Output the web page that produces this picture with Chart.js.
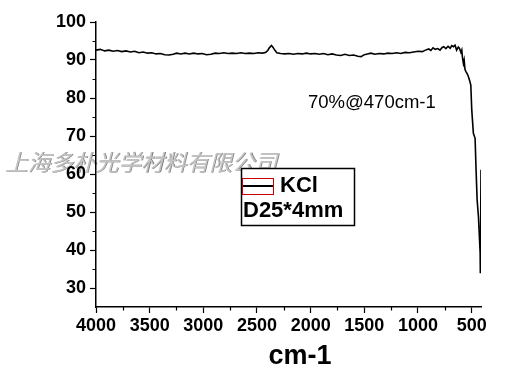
<!DOCTYPE html>
<html>
<head>
<meta charset="utf-8">
<script src="https://cdn.jsdelivr.net/npm/chart.js@4/dist/chart.umd.min.js"></script>
<style>
  html, body { margin: 0; padding: 0; background: #fff; }
  #wrap { width: 522px; height: 373px; position: relative; }
</style>
</head>
<body>
<div id="wrap"><canvas id="irChart"></canvas></div>
<script>
// wavenumber (cm-1) and transmittance (%)
const wavenumbers = [
  4000, 3960, 3920, 3880, 3840, 3800, 3760, 3720, 3680, 3640,
  3600, 3560, 3520, 3480, 3440, 3400, 3360, 3320, 3280, 3250,
  3210, 3170, 3130, 3090, 3050, 3010, 2970, 2930, 2890, 2850,
  2810, 2770, 2730, 2690, 2650, 2610, 2570, 2530, 2490, 2450,
  2420, 2400, 2385, 2365, 2350, 2335, 2315, 2280, 2240, 2200,
  2160, 2120, 2080, 2040, 2000, 1960, 1920, 1880, 1840, 1800,
  1760, 1720, 1680, 1640, 1600, 1560, 1530, 1500, 1470, 1440,
  1400, 1360, 1320, 1280, 1240, 1200, 1160, 1120, 1080, 1040,
  1000, 960, 930, 900, 880, 860, 840, 815, 795, 775,
  760, 740, 720, 700, 685, 670, 655, 640, 625, 614,
  600, 592, 585, 577, 570, 562, 552, 540, 530, 518,
  508, 499, 484, 468, 459, 449, 437, 428, 421, 419,
  413
];
const transmittance = [
  92.6, 92.8, 92.4, 92.6, 92.3, 92.5, 92.2, 92.4, 92.1, 92.3,
  91.9, 92.1, 91.8, 91.9, 91.6, 91.7, 91.4, 91.3, 91.5, 91.8,
  91.6, 91.8, 91.6, 91.8, 91.6, 91.7, 91.4, 91.5, 91.8, 91.7,
  91.9, 91.7, 91.8, 91.7, 91.9, 91.7, 91.8, 91.7, 91.9, 91.8,
  92.0, 92.5, 93.2, 93.8, 93.3, 92.6, 91.9, 91.7, 91.6, 91.7,
  91.5, 91.7, 91.6, 91.8, 91.6, 91.7, 91.5, 91.7, 91.4, 91.6,
  91.3, 91.2, 91.5, 91.2, 91.3, 91.0, 90.9, 91.4, 91.6, 91.8,
  91.5, 91.7, 91.6, 91.8, 91.7, 91.9, 91.7, 92.0, 91.9, 92.1,
  92.3, 92.2, 92.6, 92.9, 92.5, 93.2, 92.8, 93.0, 92.6, 93.3,
  93.5, 93.0, 93.6, 93.1, 93.8, 93.5, 93.9, 92.6, 93.4, 93.1,
  92.0, 92.6, 90.5, 89.1, 90.0, 87.5, 86.9, 86.3, 85.6, 84.5,
  83.4, 76.8, 70.7, 69.4, 61.1, 53.2, 48.8, 43.5, 39.2, 33.9,
  61.1
];
const xTickValues = [4000, 3500, 3000, 2500, 2000, 1500, 1000, 500];
const xMinorValues = [3750, 3250, 2750, 2250, 1750, 1250, 750];
const yTickValues = [30, 40, 50, 60, 70, 80, 90, 100];
const yMinorValues = [35, 45, 55, 65, 75, 85, 95];

const seriesLabel = 'KCl';
const sampleNote = 'D25*4mm';
const peakNote = '70%@470cm-1';
const xTitle = 'cm-1';
const watermark = '上海多朴光学材料有限公司';

const points = wavenumbers.map((w, i) => ({ x: w, y: transmittance[i] }));

// grey company stamp sits under everything else
const watermarkPlugin = {
    id: 'watermark',
    beforeDraw(chart) {
        const ctx = chart.ctx;
        ctx.save();
        ctx.font = 'italic 22.7px "Noto Sans CJK SC"';
        ctx.textBaseline = 'middle';
        ctx.textAlign = 'left';
        ctx.fillStyle = '#7a7a7a';
        ctx.fillText(watermark, 5.8, 162.8);
        ctx.fillStyle = '#c4c4c4';
        ctx.fillText(watermark, 5, 162);
        ctx.restore();
    }
};

// minor ticks, legend box, notes and axis title
const extrasPlugin = {
    id: 'extras',
    afterDraw(chart) {
        const ctx = chart.ctx;
        const xs = chart.scales.x;
        const ys = chart.scales.y;
        ctx.save();
        ctx.strokeStyle = '#000';
        ctx.lineWidth = 1.2;
        ctx.beginPath();
        xMinorValues.forEach(v => {
            const px = Math.round(xs.getPixelForValue(v)) + 0.5;
            ctx.moveTo(px, ys.bottom);
            ctx.lineTo(px, ys.bottom + 3.5);
        });
        yMinorValues.forEach(v => {
            const py = Math.round(ys.getPixelForValue(v)) + 0.5;
            ctx.moveTo(xs.left, py);
            ctx.lineTo(xs.left - 3.5, py);
        });
        ctx.stroke();

        // legend
        ctx.fillStyle = '#fff';
        ctx.fillRect(241, 168, 114, 58);
        ctx.lineWidth = 1.5;
        ctx.strokeStyle = '#000';
        ctx.strokeRect(241.5, 168.5, 113, 57);
        ctx.strokeStyle = '#cc0000';
        ctx.lineWidth = 1;
        ctx.strokeRect(242.5, 178.5, 31, 16);
        ctx.strokeStyle = '#000';
        ctx.lineWidth = 2;
        ctx.beginPath();
        ctx.moveTo(243, 186);
        ctx.lineTo(273, 186);
        ctx.stroke();

        ctx.fillStyle = '#000';
        ctx.textBaseline = 'middle';
        ctx.textAlign = 'left';
        ctx.font = 'bold 22px "Liberation Sans"';
        ctx.fillText(seriesLabel, 280, 186);
        ctx.fillText(sampleNote, 243, 211);

        ctx.font = '18.5px "Liberation Sans"';
        ctx.fillText(peakNote, 308, 103);

        ctx.font = 'bold 27px "Liberation Sans"';
        ctx.textAlign = 'center';
        ctx.fillText(xTitle, 300, 357);
        ctx.restore();
    }
};

const tickFont = { family: '"Liberation Sans"', size: 18, weight: 'bold' };

new Chart(document.getElementById('irChart'), {
    type: 'line',
    data: {
        datasets: [{
            label: seriesLabel,
            data: points,
            borderColor: '#000',
            borderWidth: 1.6,
            pointRadius: 0,
            tension: 0,
            fill: false
        }]
    },
    options: {
        responsive: true,
        maintainAspectRatio: false,
        animation: false,
        layout: { padding: { top: 22, right: 41, left: 0, bottom: 0 } },
        plugins: {
            legend: { display: false },
            tooltip: { enabled: false }
        },
        scales: {
            x: {
                type: 'linear',
                reverse: true,
                min: 413,
                max: 4000,
                afterBuildTicks: (scale) => { scale.ticks = xTickValues.map(v => ({ value: v })); },
                afterFit: (scale) => { scale.height = 66; },
                ticks: {
                    color: '#000', font: tickFont, padding: 2, maxRotation: 0, autoSkip: false,
                    callback: (v) => String(v)
                },
                grid: { drawOnChartArea: false, tickLength: 6, tickColor: '#000', tickWidth: 1.2 },
                border: { color: '#000', width: 1.5 }
            },
            y: {
                min: 25,
                max: 100,
                afterBuildTicks: (scale) => { scale.ticks = yTickValues.map(v => ({ value: v })); },
                afterFit: (scale) => { scale.width = 96; },
                ticks: { color: '#000', font: tickFont, padding: 4, autoSkip: false },
                grid: { drawOnChartArea: false, tickLength: 6, tickColor: '#000', tickWidth: 1.2 },
                border: { color: '#000', width: 1.5 }
            }
        }
    },
    plugins: [watermarkPlugin, extrasPlugin]
});
</script>
</body>
</html>
